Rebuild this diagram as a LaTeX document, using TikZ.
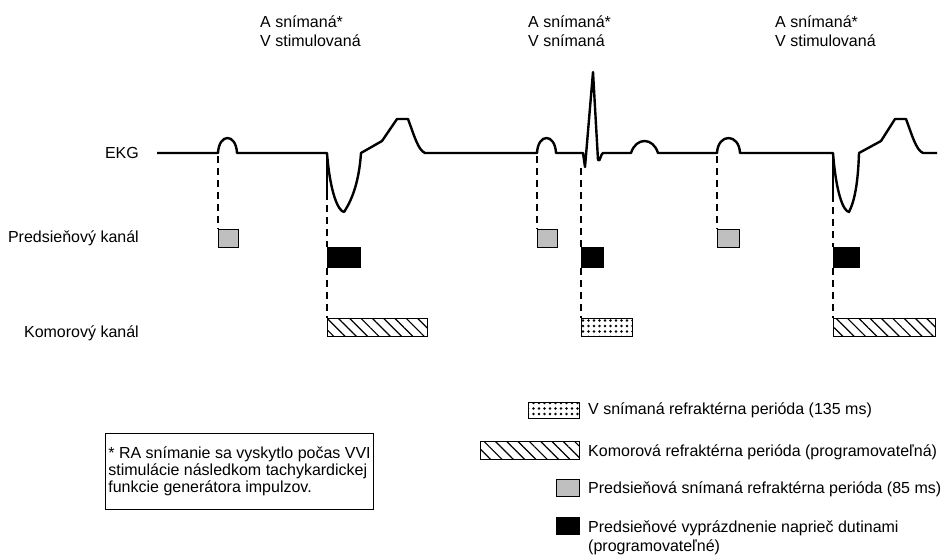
\documentclass[tikz,border=0pt]{standalone}
\usepackage{fontspec}
\setmainfont{Liberation Sans}
\usetikzlibrary{patterns.meta}
\begin{document}
\begin{tikzpicture}[x=1pt,y=-1pt,
  lbl/.style={font=\fontsize{16}{19}\selectfont, inner sep=0pt},
  ekgline/.style={line width=2.4pt, line join=round},
  dashline/.style={line width=1.8pt, dash pattern=on 7pt off 5pt},
  boxbase/.style={draw, line width=1.3pt, inner sep=0pt, anchor=north west},
  atrbox/.style={boxbase, fill=black!25},
  blkbox/.style={boxbase, fill=black},
  hatchbox/.style={boxbase, pattern={Lines[angle=-45,distance=8pt,line width=1.2pt]}},
  dotbox/.style={boxbase, pattern={Dots[radius=1.3pt,distance=5.5pt]}},
  notebox/.style={draw, line width=0.8pt, font=\fontsize{16}{17}\selectfont, align=left,
    anchor=north west, inner xsep=3pt, minimum width=266pt, minimum height=76pt},
]
\useasboundingbox (0,0) rectangle (947,557);

% ECG trace
\draw[ekgline] (157,153) -- (218,153)
  .. controls (219,133) and (236,133) .. (237,153) -- (327,153)
  .. controls (330,192) and (338,211) .. (344,212)
  .. controls (352,200) and (359,182) .. (361,153)
  -- (382,141) -- (397,119) -- (408,119)
  .. controls (414,135) and (418,150) .. (425,153)
  -- (537,153) .. controls (538,133) and (555,133) .. (556,153)
  -- (583,153) -- (585,167) -- (593,72) -- (598,160)
  .. controls (600,163) and (601,153) .. (603,153)
  -- (631,153) .. controls (636,137) and (653,137) .. (658,153)
  -- (717,153) .. controls (718,133) and (739,133) .. (740,153)
  -- (833,153)
  .. controls (836,192) and (843,211) .. (849,212)
  .. controls (855,200) and (858,182) .. (859,153)
  -- (881,141) -- (895,119) -- (906,119)
  .. controls (912,135) and (916,150) .. (923,153)
  -- (937,153);

% pacing spikes
\draw[ekgline] (327,153) -- (327,193);
\draw[ekgline] (833,153) -- (833,195);

% event coordinates on the trace
\coordinate (p1) at (218,156);
\coordinate (v1) at (327,193);
\coordinate (p2) at (537,156);
\coordinate (v2) at (581,168);
\coordinate (p3) at (717,156);
\coordinate (v3) at (833,195);

% atrial channel boxes
\node[atrbox, minimum width=20pt, minimum height=18pt] (a1) at (218,229) {};
\node[atrbox, minimum width=20pt, minimum height=18pt] (a2) at (537,229) {};
\node[atrbox, minimum width=22pt, minimum height=18pt] (a3) at (717,229) {};
% cross-chamber blanking
\node[blkbox, minimum width=33pt, minimum height=20pt] (b1) at (327,247) {};
\node[blkbox, minimum width=22pt, minimum height=20pt] (b2) at (581,247) {};
\node[blkbox, minimum width=26pt, minimum height=20pt] (b3) at (833,247) {};
% ventricular channel
\node[hatchbox, minimum width=100pt, minimum height=18pt] (h1) at (327,318) {};
\node[dotbox, minimum width=51pt, minimum height=18pt] (d2) at (581,318) {};
\node[hatchbox, minimum width=102pt, minimum height=18pt] (h3) at (833,318) {};

% dashed markers
\draw[dashline] (p1) -- (a1.north west);
\draw[dashline] (v1) -- (b1.north west);
\draw[dashline] (b1.south west) -- (h1.north west);
\draw[dashline] (p2) -- (a2.north west);
\draw[dashline] (v2) -- (b2.north west);
\draw[dashline] (b2.south west) -- (d2.north west);
\draw[dashline] (p3) -- (a3.north west);
\draw[dashline] (v3) -- (b3.north west);
\draw[dashline] (b3.south west) -- (h3.north west);

% row labels
\node[lbl, anchor=base east] (ekg) at (139,158) {EKG};
\node[lbl, anchor=base east] (achan) at (139,242) {Predsieňový kanál};
\node[lbl, anchor=base east] (vchan) at (139,337) {Komorový kanál};

% top labels
\node[lbl, anchor=base west] (t1a) at (260,27) {A snímaná*};
\node[lbl, anchor=base west] (t1b) at (260,46) {V stimulovaná};
\node[lbl, anchor=base west] (t2a) at (528,27) {A snímaná*};
\node[lbl, anchor=base west] (t2b) at (528,46) {V snímaná};
\node[lbl, anchor=base west] (t3a) at (775,27) {A snímaná*};
\node[lbl, anchor=base west] (t3b) at (775,46) {V stimulovaná};

% note
\node[notebox] (note) at (105,433) {* RA snímanie sa vyskytlo počas VVI\\stimulácie následkom tachykardickej\\funkcie generátora impulzov.};

% legend
\node[dotbox, minimum width=51pt, minimum height=16pt] (ld) at (528,402) {};
\node[lbl, anchor=base west] (ldt) at (588,414) {V snímaná refraktérna perióda (135 ms)};
\node[hatchbox, minimum width=99pt, minimum height=18pt] (lh) at (480,441) {};
\node[lbl, anchor=base west] (lht) at (588,456) {Komorová refraktérna perióda (programovateľná)};
\node[atrbox, minimum width=23pt, minimum height=17pt] (lg) at (556,479) {};
\node[lbl, anchor=base west] (lgt) at (588,493) {Predsieňová snímaná refraktérna perióda (85 ms)};
\node[blkbox, minimum width=23pt, minimum height=17pt] (lb) at (556,517) {};
\node[lbl, anchor=base west] (lbt1) at (588,532) {Predsieňové vyprázdnenie naprieč dutinami};
\node[lbl, anchor=base west] (lbt2) at (588,551) {(programovateľné)};
\end{tikzpicture}
\end{document}
